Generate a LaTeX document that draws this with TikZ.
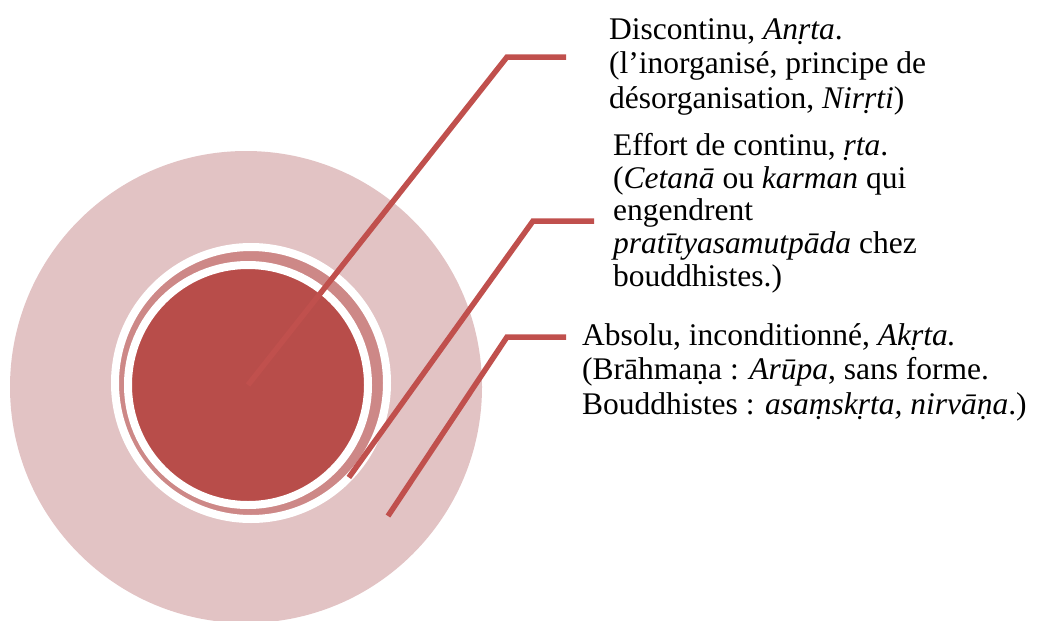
\documentclass[tikz,border=0pt]{standalone}
\usepackage{fontspec}
\setmainfont{Liberation Serif}
\usepackage{tikz}
\definecolor{targetlight}{HTML}{E2C3C4}
\definecolor{targetmid}{HTML}{CD8887}
\definecolor{targetdark}{HTML}{B84D4A}
\definecolor{leaderred}{HTML}{C0504D}

\begin{document}
\begin{tikzpicture}[x=1pt,y=-1pt,
      disc/.style={
            circle, inner sep=0pt, outer sep=0pt
        },
      rim/.style={
            disc, draw=white, line width=8pt
        },
      leader/.style={
            draw=leaderred, line width=5.5pt
        },
      note/.style={
            anchor=base west, align=left, inner sep=0pt,
            font=\fontsize{31.5}{34.4}\selectfont
        }
      ]
    \useasboundingbox (0,0) rectangle (1039,621);

    \node[disc, fill=targetlight, minimum size=472pt] (A) at (246,387) {};
    \node[rim, fill=targetmid, minimum size=272pt] (B) at (251,383) {};
    \node[rim, fill=targetdark, minimum size=240pt] (C) at (248,385) {};

    \coordinate (D1) at (507,57);
    \coordinate (D2) at (566,57);
    \coordinate (E1) at (533,221);
    \coordinate (E2) at (594,221);
    \coordinate (F0) at (388,516);
    \coordinate (F1) at (507,337);
    \coordinate (F2) at (566,337);

    \draw[leader] (C.center) -- (D1) -- (D2);
    \draw[leader] (B.-44) -- (E1) -- (E2);
    \draw[leader] (F0) -- (F1) -- (F2);

    \node[note] (T1) at (609,108) {Discontinu, \textit{Anṛta}.\\
          (l’inorganisé, principe de\\
          désorganisation, \textit{Nirṛti})};
    \node[note, font=\fontsize{31.5}{32.9}\selectfont] (T2) at (613,286.7)
          {Effort de continu, \textit{ṛta}.\\
          (\textit{Cetanā} ou \textit{karman} qui\\
          engendrent\\
          \textit{pratītyasamutpāda} chez\\
          bouddhistes.)};
    \node[note] (T3) at (582,414) {Absolu, inconditionné, \textit{Akṛta.}\\
          (Brāhmaṇa : \textit{Arūpa}, sans forme.\\
          Bouddhistes : \textit{asaṃskṛta, nirvāṇa}.)};
  \end{tikzpicture}
\end{document}
